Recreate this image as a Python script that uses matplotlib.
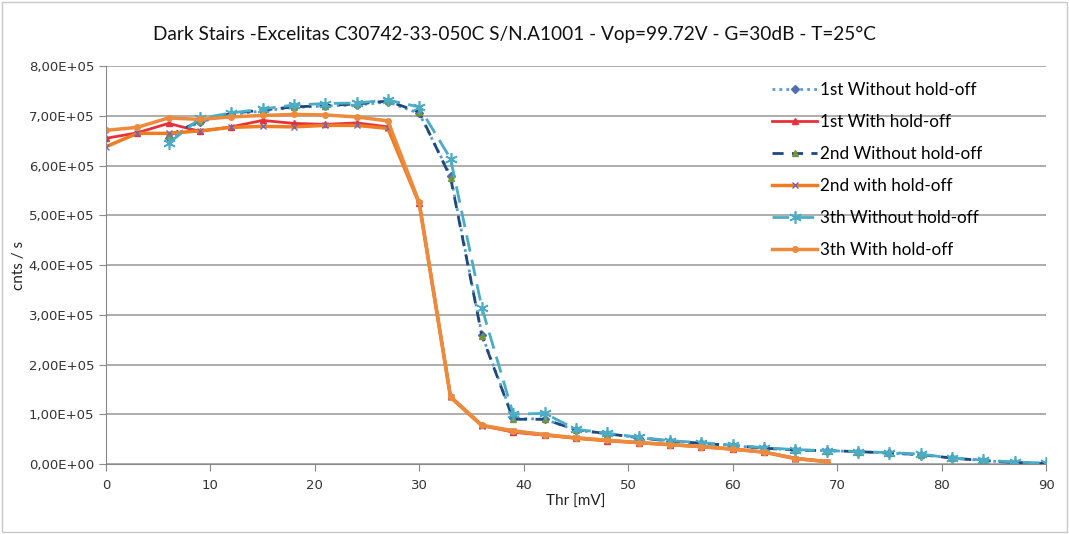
import matplotlib
matplotlib.use('Agg')
import matplotlib.pyplot as plt
import matplotlib.ticker as ticker
import numpy as np

# Thresholds [mV]
x_without = list(range(6, 91, 3))
x_with = list(range(0, 70, 3))

# counts / s in units of 1e5
first_without = [6.55, 6.88, 7.03, 7.10, 7.17, 7.20, 7.22, 7.28, 7.05, 5.80, 2.60, 0.92, 0.90, 0.68, 0.61,
                 0.53, 0.46, 0.42, 0.37, 0.32, 0.28, 0.27, 0.25, 0.22, 0.19, 0.12, 0.07, 0.03, 0.01]
first_with = [6.55, 6.66, 6.85, 6.69, 6.78, 6.91, 6.85, 6.83, 6.86, 6.78, 5.25, 1.36, 0.78, 0.64, 0.58,
              0.52, 0.47, 0.43, 0.39, 0.35, 0.30, 0.24, 0.12, 0.05]
second_without = [6.60, 6.90, 7.05, 7.12, 7.18, 7.21, 7.24, 7.30, 7.08, 5.76, 2.58, 0.90, 0.90, 0.69, 0.61,
                  0.53, 0.46, 0.42, 0.37, 0.32, 0.28, 0.27, 0.25, 0.22, 0.19, 0.12, 0.07, 0.03, 0.01]
second_with = [6.38, 6.65, 6.65, 6.70, 6.77, 6.79, 6.78, 6.81, 6.81, 6.75, 5.24, 1.34, 0.77, 0.66, 0.59,
               0.52, 0.47, 0.43, 0.39, 0.35, 0.30, 0.24, 0.11, 0.05]
third_without = [6.45, 6.95, 7.06, 7.14, 7.22, 7.25, 7.26, 7.32, 7.18, 6.14, 3.14, 1.00, 1.02, 0.70, 0.62,
                 0.54, 0.47, 0.43, 0.38, 0.33, 0.29, 0.27, 0.25, 0.23, 0.20, 0.12, 0.08, 0.04, 0.02]
third_with = [6.71, 6.77, 6.96, 6.93, 6.98, 7.01, 7.03, 7.02, 6.98, 6.90, 5.26, 1.35, 0.78, 0.67, 0.59,
              0.53, 0.48, 0.43, 0.39, 0.35, 0.30, 0.24, 0.11, 0.05]

title = 'Dark Stairs -Excelitas C30742-33-050C S/N.A1001 - Vop=99.72V - G=30dB - T=25°C'


def scaled(v):
    return np.array(v) * 1e5


fig = plt.figure(figsize=(10.69, 5.34), dpi=100)
ax = fig.add_axes([0.099, 0.131, 0.8795, 0.745])

ax.plot(x_without, scaled(first_without), color='#5B9BD5', ls=(0, (1, 1.5)), lw=2,
        marker='D', ms=4, mfc='#4F6FB5', mec='#4F6FB5', label='1st Without hold-off')
ax.plot(x_with, scaled(first_with), color='#E8303A', ls='-', lw=2,
        marker='^', ms=4, mfc='#E8303A', mec='#E8303A', label='1st With hold-off')
ax.plot(x_without, scaled(second_without), color='#1F497D', ls=(0, (4, 3)), lw=2,
        marker='^', ms=4, mfc='#77933C', mec='#77933C', label='2nd Without hold-off')
ax.plot(x_with, scaled(second_with), color='#F07C21', ls='-', lw=2.5,
        marker='x', ms=4, mfc='#8064A2', mec='#8064A2', label='2nd with hold-off')
ax.plot(x_without, scaled(third_without), color='#4BACC6', ls=(0, (6, 3)), lw=2,
        marker=(6, 2, 0), ms=9, mec='#4BACC6', mew=1.2, label='3th Without hold-off')
ax.plot(x_with, scaled(third_with), color='#EE8A3C', ls='-', lw=2.5,
        marker='o', ms=4, mfc='#EE8A3C', mec='#EE8A3C', label='3th With hold-off')

ax.set_xlim(0, 90)
ax.set_ylim(0, 8e5)
ax.set_xticks(range(0, 91, 10))
ax.set_yticks(np.arange(0, 8.01e5, 1e5))
ax.yaxis.set_major_formatter(ticker.FuncFormatter(lambda v, p: ('%.2E' % v).replace('.', ',')))
ax.grid(axis='y', color='#A0A0A0', lw=1.2)
ax.set_axisbelow(True)
for s in ['top', 'right']:
    ax.spines[s].set_visible(False)
for s in ['left', 'bottom']:
    ax.spines[s].set_color('#888888')
ax.tick_params(axis='both', colors='#888888', labelcolor='#333333', labelsize=9.5, direction='out', length=5)
ax.tick_params(axis='x', pad=6)

ax.set_xlabel('Thr [mV]', fontsize=11, family='Lato', color='#222222', labelpad=2)
ax.set_ylabel('cnts / s', fontsize=11, family='Lato', color='#222222', labelpad=2)
fig.text(0.481, 0.935, title, ha='center', va='center', fontsize=13.7, family='Lato', color='#111111')

leg = ax.legend(loc='upper left', bbox_to_anchor=(0.709, 0.96), frameon=False,
                prop={'family': 'Lato', 'size': 12.3}, labelspacing=0.93, handlelength=2.6,
                handletextpad=0.2, borderaxespad=0, borderpad=0)

fig.patches.append(plt.Rectangle((0.002, 0.004), 0.996, 0.992, transform=fig.transFigure,
                                 fill=False, ec='#C8C8C8', lw=1))

fig.savefig('out.png', dpi=100)
